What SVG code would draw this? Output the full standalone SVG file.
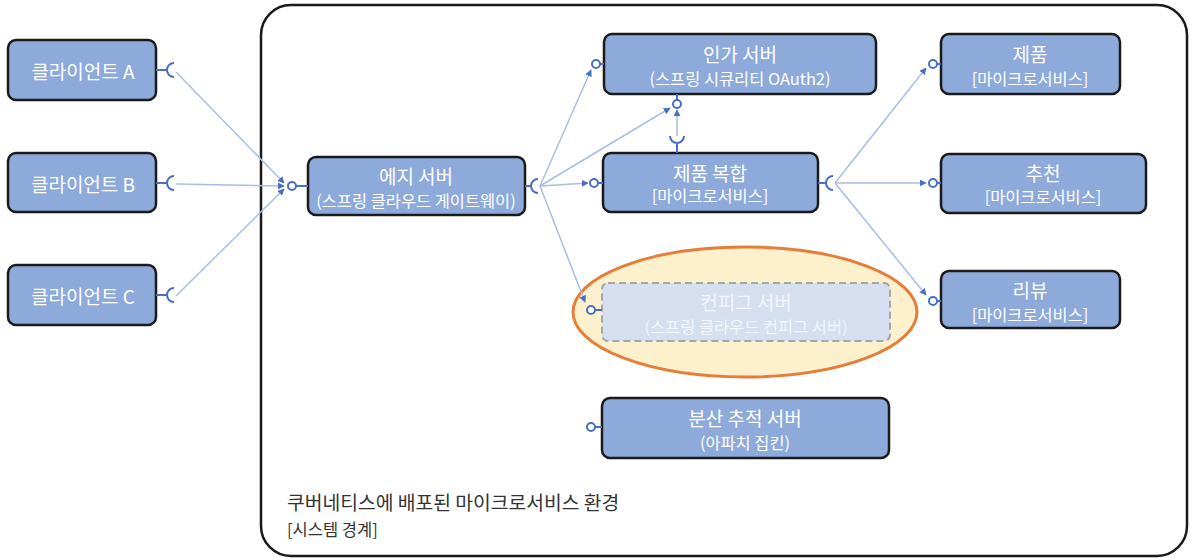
<svg xmlns="http://www.w3.org/2000/svg" width="1192" height="560" viewBox="0 0 1192 560">
<defs>
<style>
.box{fill:#8eaadb;stroke:#1a1a1a;stroke-width:2.5}
.t{font-family:"Noto Sans CJK KR","Noto Sans",sans-serif;fill:#ffffff;text-anchor:middle;dominant-baseline:central}
.t1{font-size:19px}
.t2{font-size:16.4px}
.conn{fill:none;stroke:#a9bde6;stroke-width:1.5}
.sym{fill:none;stroke:#4a6fc1;stroke-width:2}
.ball{fill:#ffffff;stroke:#4a6fc1;stroke-width:2}
.lbl{font-family:"Noto Sans CJK KR","Noto Sans",sans-serif;fill:#333333}
</style>
<marker id="arr" viewBox="0 0 10 10" refX="9" refY="5" markerWidth="7" markerHeight="7" orient="auto" markerUnits="userSpaceOnUse">
<path d="M0,0 L10,5 L0,10 z" fill="#4a6fc1"/>
</marker>
</defs>
<rect width="1192" height="560" fill="#ffffff"/>

<g id="boundary">
<rect x="261" y="5" width="926" height="551" rx="30" fill="#ffffff" stroke="#1a1a1a" stroke-width="2.5"/>
<text class="lbl" x="287" y="510" font-size="19.3">쿠버네티스에 배포된 마이크로서비스 환경</text>
<text class="lbl" x="287" y="536" font-size="16.5">[시스템 경계]</text>
</g>

<g id="config-highlight">
<ellipse cx="745" cy="312" rx="172" ry="65" fill="#fdf0cc" stroke="#e67e3a" stroke-width="3"/>
</g>

<g id="connectors">
<path class="conn" d="M176,72 L284,183" marker-end="url(#arr)"/>
<path class="conn" d="M176,184 L284,186" marker-end="url(#arr)"/>
<path class="conn" d="M176,296 L284,189" marker-end="url(#arr)"/>
<path class="conn" d="M540,186 L591,70" marker-end="url(#arr)"/>
<path class="conn" d="M540,186 L670,108" marker-end="url(#arr)"/>
<path class="conn" d="M540,186 L588,183" marker-end="url(#arr)"/>
<path class="conn" d="M540,186 L585,302" marker-end="url(#arr)"/>
<path class="conn" d="M677,136 L677,110" marker-end="url(#arr)"/>
<path class="conn" d="M835,183 L926,68" marker-end="url(#arr)"/>
<path class="conn" d="M835,183 L926,183" marker-end="url(#arr)"/>
<path class="conn" d="M835,183 L926,295" marker-end="url(#arr)"/>
</g>

<g id="client-a">
<rect class="box" x="8" y="40" width="148" height="60" rx="8"/>
<text class="t t1" x="83" y="70">클라이언트 A</text>
<path class="sym" d="M156,70 L167,70 M174,63 A7,7 0 0 0 174,77"/>
</g>
<g id="client-b">
<rect class="box" x="8" y="153" width="148" height="59" rx="8"/>
<text class="t t1" x="83" y="183">클라이언트 B</text>
<path class="sym" d="M156,183 L167,183 M174,176 A7,7 0 0 0 174,190"/>
</g>
<g id="client-c">
<rect class="box" x="8" y="265" width="148" height="60" rx="8"/>
<text class="t t1" x="83" y="295">클라이언트 C</text>
<path class="sym" d="M156,295 L167,295 M174,288 A7,7 0 0 0 174,302"/>
</g>

<g id="edge-server">
<rect class="box" x="308" y="157" width="217" height="58" rx="8"/>
<text class="t t1" x="416" y="175">에지 서버</text>
<text class="t t2" x="416" y="200">(스프링 클라우드 게이트웨이)</text>
<path class="sym" d="M296,186 L308,186"/>
<circle class="ball" cx="292" cy="186" r="4"/>
<path class="sym" d="M525,186 L531,186 M538,179 A7,7 0 0 0 538,193"/>
</g>

<g id="auth-server">
<rect class="box" x="604" y="34" width="272" height="60" rx="8"/>
<text class="t t1" x="740" y="53">인가 서버</text>
<text class="t t2" x="740" y="78">(스프링 시큐리티 OAuth2)</text>
<path class="sym" d="M600,64 L604,64"/>
<circle class="ball" cx="596" cy="64" r="4"/>
<path class="sym" d="M677,94 L677,100"/>
<circle class="ball" cx="677" cy="104" r="4"/>
</g>

<g id="product-composite">
<rect class="box" x="603" y="153" width="215" height="59" rx="8"/>
<text class="t t1" x="710" y="172">제품 복합</text>
<text class="t t2" x="710" y="195">[마이크로서비스]</text>
<path class="sym" d="M598,183 L603,183"/>
<circle class="ball" cx="594" cy="183" r="4"/>
<path class="sym" d="M677,143 L677,153 M670,136 A7,7 0 0 0 684,136"/>
<path class="sym" d="M818,183 L826,183 M833,176 A7,7 0 0 0 833,190"/>
</g>

<g id="config-server">
<rect x="602" y="283" width="288" height="58" rx="6" fill="#d6dff0" stroke="#a6a6a6" stroke-width="2" stroke-dasharray="7 4"/>
<text class="t t1" x="746" y="301" style="fill:#f3f5fb">컨피그 서버</text>
<text class="t t2" x="746" y="326" style="fill:#f3f5fb">(스프링 클라우드 컨피그 서버)</text>
<path class="sym" d="M595,310 L602,310"/>
<circle class="ball" cx="591" cy="310" r="4"/>
</g>

<g id="tracing-server">
<rect class="box" x="602" y="398" width="287" height="60" rx="8"/>
<text class="t t1" x="745" y="417">분산 추적 서버</text>
<text class="t t2" x="745" y="442">(아파치 집킨)</text>
<path class="sym" d="M595,427 L602,427"/>
<circle class="ball" cx="591" cy="427" r="4"/>
</g>

<g id="product">
<rect class="box" x="941" y="34" width="179" height="60" rx="8"/>
<text class="t t1" x="1030" y="53">제품</text>
<text class="t t2" x="1030" y="78">[마이크로서비스]</text>
<path class="sym" d="M937,64 L941,64"/>
<circle class="ball" cx="933" cy="64" r="4"/>
</g>

<g id="recommendation">
<rect class="box" x="941" y="154" width="205" height="59" rx="8"/>
<text class="t t1" x="1043" y="172">추천</text>
<text class="t t2" x="1043" y="196">[마이크로서비스]</text>
<path class="sym" d="M937,183 L941,183"/>
<circle class="ball" cx="933" cy="183" r="4"/>
</g>

<g id="review">
<rect class="box" x="941" y="271" width="179" height="57" rx="8"/>
<text class="t t1" x="1030" y="289">리뷰</text>
<text class="t t2" x="1030" y="314">[마이크로서비스]</text>
<path class="sym" d="M937,301 L941,301"/>
<circle class="ball" cx="933" cy="301" r="4"/>
</g>
</svg>
